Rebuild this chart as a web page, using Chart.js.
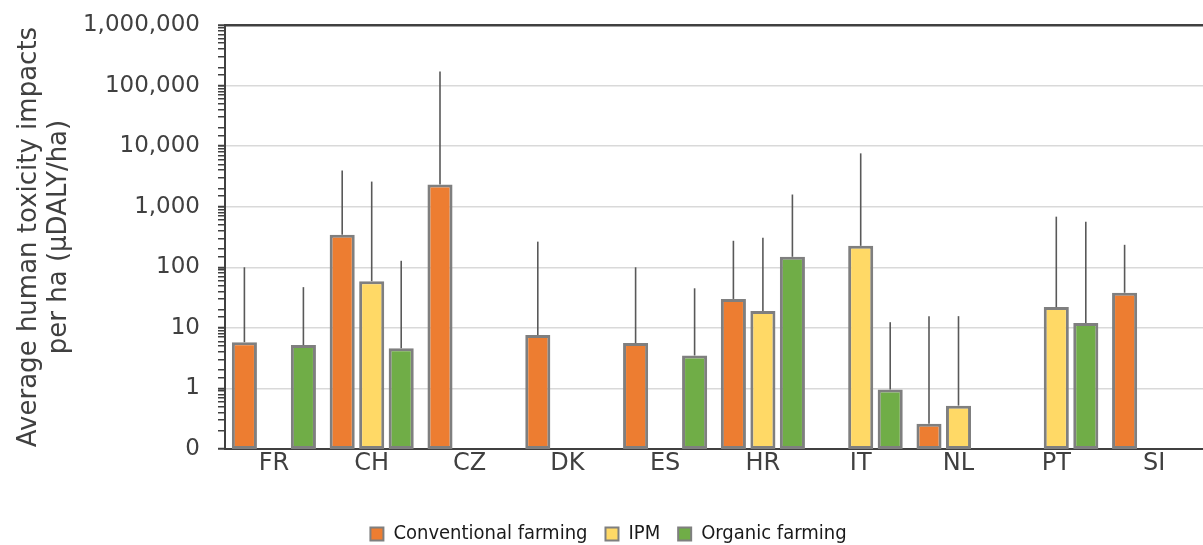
<!DOCTYPE html>
<html>
<head>
<meta charset="utf-8">
<script src="https://cdn.jsdelivr.net/npm/chart.js@4/dist/chart.umd.min.js"></script>
<style>
  html, body { margin: 0; padding: 0; background: #ffffff; }
  #wrap { width: 1203px; height: 545px; position: relative; }
</style>
</head>
<body>
<div id="wrap"><canvas id="c" width="1203" height="545"></canvas></div>
<script>
// ---- data ----
const categories = ['FR', 'CH', 'CZ', 'DK', 'ES', 'HR', 'IT', 'NL', 'PT', 'SI'];
const seriesNames = ['Conventional farming', 'IPM', 'Organic farming'];
const conventional = [5.8, 345, 2330, 7.6, 5.6, 30, null, 0.26, null, 38];
const ipm = [null, 59, null, null, null, 19, 226, 0.52, 22, null];
const organic = [5.2, 4.6, null, null, 3.5, 149, 0.96, null, 12, null];
// upper end of each error bar
const conventionalErrTop = [100, 3950, 170000, 265, 100, 274, null, 15.6, null, 235];
const ipmErrTop = [null, 2600, null, null, null, 307, 7600, 15.6, 685, null];
const organicErrTop = [47, 128, null, null, 45, 1590, 12.4, null, 566, null];
const yTickValues = [0.1, 1, 10, 100, 1000, 10000, 100000, 1000000];
const yTickLabels = ['0', '1', '10', '100', '1,000', '10,000', '100,000', '1,000,000'];

const errTops = [conventionalErrTop, ipmErrTop, organicErrTop];
const fillColors = ['#ED7D31', '#FFD966', '#70AD47'];
const FONT = "'DejaVu Sans', Verdana, sans-serif";
const TEXT = '#404040';

function isMajor(v) {
  const l = Math.log10(v);
  return Math.abs(l - Math.round(l)) < 1e-9;
}
function labelFor(v) {
  for (let i = 0; i < yTickValues.length; i++) {
    if (Math.abs(Math.log10(v) - Math.log10(yTickValues[i])) < 1e-9) return yTickLabels[i];
  }
  return '';
}

const errorBarPlugin = {
  id: 'errorBars',
  afterDatasetsDraw(chart) {
    const ctx = chart.ctx;
    const y = chart.scales.y;
    ctx.save();
    ctx.strokeStyle = '#595959';
    ctx.lineWidth = 1.6;
    chart.data.datasets.forEach((ds, i) => {
      const meta = chart.getDatasetMeta(i);
      meta.data.forEach((bar, j) => {
        const top = errTops[i][j];
        if (top == null || ds.data[j] == null) return;
        const yTop = y.getPixelForValue(top);
        ctx.beginPath();
        ctx.moveTo(bar.x, bar.y);
        ctx.lineTo(bar.x, yTop);
        ctx.stroke();
      });
    });
    ctx.restore();
  }
};

const chart = new Chart(document.getElementById('c'), {
  type: 'bar',
  data: {
    labels: categories,
    datasets: [conventional, ipm, organic].map((d, i) => ({
      label: seriesNames[i],
      data: d,
      backgroundColor: fillColors[i],
      borderColor: '#7F7F7F',
      borderWidth: 3,
      borderSkipped: false,
      categoryPercentage: 0.905,
      barPercentage: 0.85
    }))
  },
  options: {
    responsive: false,
    animation: false,
    devicePixelRatio: 1,
    layout: { padding: { left: 14, right: 0, top: 25, bottom: -9 } },
    plugins: {
      tooltip: { enabled: false },
      legend: {
        position: 'bottom',
        labels: {
          boxWidth: 13,
          boxHeight: 13,
          padding: 18,
          color: '#1a1a1a',
          font: { family: "'DejaVu Sans Condensed', 'DejaVu Sans', sans-serif", size: 20 },
          generateLabels(ch) {
            return ch.data.datasets.map((ds, i) => ({
              text: ds.label,
              fillStyle: ds.backgroundColor,
              strokeStyle: '#7F7F7F',
              lineWidth: 2,
              datasetIndex: i,
              hidden: false,
              fontColor: '#1a1a1a'
            }));
          }
        }
      }
    },
    scales: {
      x: {
        grid: { display: false, drawTicks: false },
        border: { display: true, color: '#404040', width: 2 },
        ticks: { color: TEXT, font: { family: FONT, size: 24 }, padding: 0 },
        afterFit(scale) { scale.height = 57; }
      },
      y: {
        type: 'logarithmic',
        min: 0.1,
        max: 1000000,
        afterFit(scale) {
          scale.width = 211;
          scale.paddingTop = 14;
          scale.paddingBottom = 14;
        },
        border: { display: true, color: '#404040', width: 2 },
        grid: {
          color: (c) => {
            if (!c.tick) return 'rgba(0,0,0,0)';
            if (c.tick.value >= 1000000) return '#404040';
            return isMajor(c.tick.value) ? '#d9d9d9' : 'rgba(0,0,0,0)';
          },
          lineWidth: (c) => (c.tick && c.tick.value >= 1000000 ? 2.5 : 1.5),
          tickColor: '#404040',
          tickWidth: (c) => (c.tick && isMajor(c.tick.value) ? 2 : 1.5),
          tickLength: 7,
          drawTicks: true
        },
        ticks: {
          autoSkip: false,
          color: TEXT,
          font: { family: FONT, size: 23 },
          padding: 18,
          callback: (v) => (isMajor(v) ? labelFor(v) : '')
        },
        title: {
          display: true,
          text: ['Average human toxicity impacts', 'per ha (\u03bcDALY/ha)'],
          color: TEXT,
          font: { family: FONT, size: 26, lineHeight: 1.15 },
          padding: { top: 0, bottom: 0 }
        }
      }
    }
  },
  plugins: [errorBarPlugin]
});
</script>
</body>
</html>
